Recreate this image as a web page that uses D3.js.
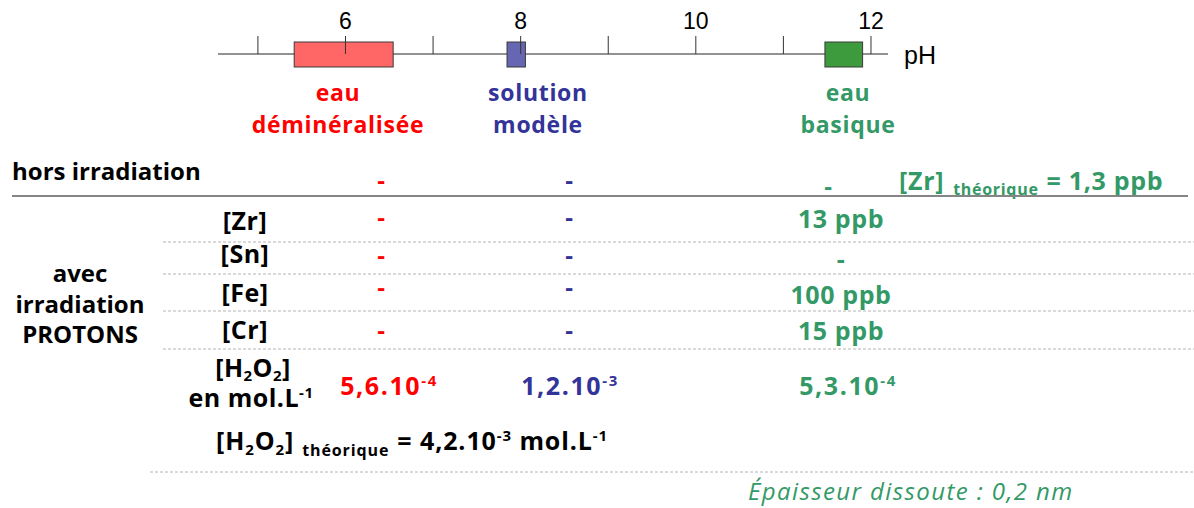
<!DOCTYPE html>
<html><head><meta charset="utf-8">
<script src="https://cdn.jsdelivr.net/npm/d3@7"></script>
<style>body{margin:0;background:#fff;} svg{display:block;}</style>
</head><body><svg id="c" width="1194" height="508"></svg>
<script>
// ---------- data ----------
const sampleLines = [["eau", "déminéralisée"], ["solution", "modèle"], ["eau", "basique"]];
const phLow = [5.42, 7.85, 11.48];
const phHigh = [6.55, 8.06, 11.91];
const phTicks = [5, 6, 7, 8, 9, 10, 11, 12];
const phTickLabels = ["", "6", "", "8", "", "10", "", "12"];
const horsIrradiation = ["-", "-", "-"];
const elements = ["[Zr]", "[Sn]", "[Fe]", "[Cr]"];
const valDemin = ["-", "-", "-", "-"];
const valModele = ["-", "-", "-", "-"];
const valBasique = ["13 ppb", "-", "100 ppb", "15 ppb"];
const h2o2Mantissa = ["5,6", "1,2", "5,3"];
const h2o2Exponent = ["-4", "-3", "-4"];
const zrTheorique = "1,3 ppb";
const h2o2TheoMantissa = "4,2";
const h2o2TheoExponent = "-3";
const epaisseur = "0,2 nm";

// ---------- style / layout ----------
const textCol = ["#ff0000", "#333399", "#339966"];
const boxFill = ["#ff6666", "#6666b3", "#3d9b3d"];
const F = "'Open Sans', 'Noto Sans', sans-serif";
const svg = d3.select("#c");

const x = d3.scaleLinear().domain([4.55, 12.2]).range([218, 888]);
const axisY = 54;

// axis line
svg.append("line").attr("x1", x.range()[0]).attr("x2", x.range()[1])
  .attr("y1", axisY).attr("y2", axisY)
  .attr("stroke", "#6e6e6e").attr("stroke-width", 1.6);

// boxes
svg.append("g").selectAll("rect").data(phLow).join("rect")
  .attr("x", (d) => x(d)).attr("width", (d, i) => x(phHigh[i]) - x(d))
  .attr("y", 42).attr("height", 25)
  .attr("fill", (d, i) => boxFill[i]).attr("stroke", "#3a3a3a").attr("stroke-width", 1);

// ticks on top
const axis = d3.axisTop(x).tickValues(phTicks).tickSize(18).tickSizeOuter(0).tickPadding(7)
  .tickFormat((d, i) => phTickLabels[i]);
const ag = svg.append("g").attr("transform", `translate(0,${axisY})`).call(axis);
ag.select(".domain").remove();
ag.selectAll(".tick line").attr("stroke", "#333").attr("stroke-width", 1);
ag.selectAll(".tick text").attr("font-family", "'Liberation Sans', Arial, sans-serif")
  .attr("font-size", 23).attr("fill", "#000");
svg.append("text").attr("x", 904).attr("y", 64).text("pH")
  .attr("font-family", "'Liberation Sans', Arial, sans-serif").attr("font-size", 25).attr("fill", "#000");

// sample labels (two lines in one text element)
const labelCx = [338, 538, 848];
sampleLines.forEach((lines, i) => {
  const t = svg.append("text").attr("text-anchor", "middle")
    .attr("font-family", F).attr("font-weight", "bold").attr("font-size", 23)
    .attr("letter-spacing", 0.7).attr("fill", textCol[i]);
  lines.forEach((ln, j) => t.append("tspan").attr("x", labelCx[i]).attr("y", 101 + j * 32).text(ln));
});

// rich text helper (supports sub/sup and line breaks)
function rich(x0, y0, parts, opts) {
  const t = svg.append("text").attr("x", x0).attr("y", y0)
    .attr("font-family", F).attr("font-weight", opts.weight || "bold")
    .attr("font-size", opts.size || 24).attr("fill", opts.fill || "#000")
    .attr("text-anchor", opts.anchor || "start");
  if (opts.ls) t.attr("letter-spacing", opts.ls);
  let shift = 0;
  parts.forEach((p) => {
    const ts = t.append("tspan").text(p.t);
    if (p.br) {
      ts.attr("x", p.x).attr("y", p.y);
      shift = 0;
      return;
    }
    const target = p.sub ? (p.shift || 6) : p.sup ? -9 : 0;
    ts.attr("dy", target - shift);
    if (p.dx) ts.attr("dx", p.dx);
    shift = target;
    if (p.sub || p.sup) ts.attr("font-size", p.size || 15);
  });
  return t;
}

// hors irradiation row
rich(12, 180, [{ t: "hors irradiation" }], {});
const horsX = [381, 569, 828];
const horsY = [189, 189, 195];
horsIrradiation.forEach((v, i) => rich(horsX[i], horsY[i], [{ t: v }], { fill: textCol[i], anchor: "middle" }));
rich(899, 190, [{ t: "[Zr]" }, { t: "théorique", sub: true, size: 16, shift: 5, dx: 9 },
  { t: "= " + zrTheorique, dx: 8 }], { fill: textCol[2], size: 25, ls: 0.7 });

svg.append("line").attr("x1", 12).attr("x2", 1188).attr("y1", 196).attr("y2", 196)
  .attr("stroke", "#858585").attr("stroke-width", 2);

// element rows
const rowLabelY = [230, 263, 302, 339];
const dashY = [226, 264, 296, 339];
const basY = [228, 268, 304, 340];
const sepY = [242, 274, 311, 349];
const colX = [381, 569, 841];
elements.forEach((el, r) => {
  rich(245, rowLabelY[r], [{ t: el }], { anchor: "middle", size: 25, ls: 0.5 });
  rich(colX[0], dashY[r], [{ t: valDemin[r] }], { fill: textCol[0], anchor: "middle" });
  rich(colX[1], dashY[r], [{ t: valModele[r] }], { fill: textCol[1], anchor: "middle" });
  rich(colX[2], basY[r], [{ t: valBasique[r] }], { fill: textCol[2], anchor: "middle", size: 25, ls: 0.6 });
});
svg.append("g").selectAll("line").data(elements).join("line")
  .attr("x1", 163).attr("x2", 1194).attr("y1", (d, i) => sepY[i]).attr("y2", (d, i) => sepY[i])
  .attr("stroke", "#b4b4b4").attr("stroke-width", 1).attr("stroke-dasharray", "3,2");

{
  const t = svg.append("text").attr("text-anchor", "middle")
    .attr("font-family", F).attr("font-weight", "bold").attr("font-size", 24).attr("fill", "#000");
  ["avec", "irradiation", "PROTONS"].forEach((s, i) =>
    t.append("tspan").attr("x", 80).attr("y", 282 + i * 30.5).text(s));
}

// H2O2 row label (two lines)
rich(253, 377, [{ t: "[H" }, { t: "2", sub: true, shift: 4 }, { t: "O" }, { t: "2", sub: true, shift: 4 }, { t: "]" },
  { t: "en mol.L", br: true, x: 251, y: 407 }, { t: "-1", sup: true }], { anchor: "middle", size: 25, ls: 0.5 });
const h2X = [389, 570, 848];
h2o2Mantissa.forEach((m, i) =>
  rich(h2X[i], 395, [{ t: m + ".10" }, { t: h2o2Exponent[i], sup: true }],
    { fill: textCol[i], anchor: "middle", size: 25, ls: 1.6 }));

// theoretical H2O2
rich(216, 450, [{ t: "[H" }, { t: "2", sub: true, shift: 5 }, { t: "O" }, { t: "2", sub: true, shift: 5 }, { t: "]" },
  { t: "théorique", sub: true, size: 16, shift: 6, dx: 8 }, { t: "= " + h2o2TheoMantissa + ".10", dx: 8 },
  { t: h2o2TheoExponent, sup: true }, { t: " mol.L" }, { t: "-1", sup: true }], { size: 25, ls: 0.9 });

svg.append("line").attr("x1", 150).attr("x2", 1194).attr("y1", 472).attr("y2", 472)
  .attr("stroke", "#b4b4b4").attr("stroke-width", 1).attr("stroke-dasharray", "3,2");

svg.append("text").attr("x", 748).attr("y", 500).attr("font-family", F).attr("font-style", "italic")
  .attr("font-size", 24).attr("letter-spacing", 1.4).attr("fill", textCol[2])
  .text("Épaisseur dissoute : " + epaisseur);
</script></body></html>
